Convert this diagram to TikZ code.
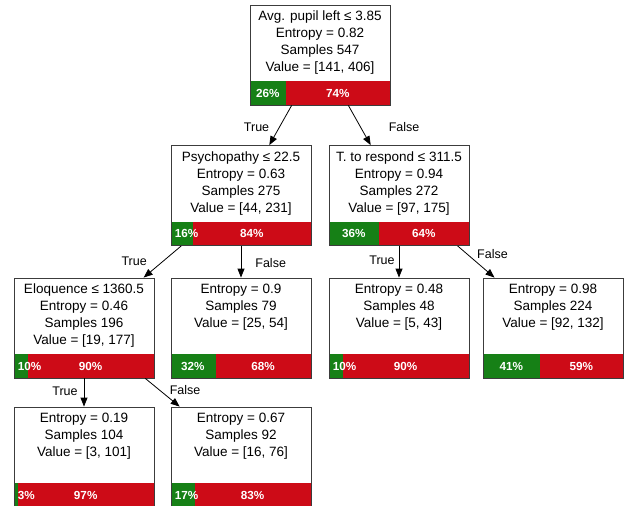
\documentclass[tikz,border=0pt]{standalone}
\usepackage{fontspec}
\setmainfont{Liberation Sans}
\usetikzlibrary{arrows.meta}
\definecolor{yes}{RGB}{22,128,22}
\definecolor{no}{RGB}{205,11,23}
\definecolor{frame}{RGB}{60,60,60}

\newcommand{\splitnode}[5]{%
  \node[box=#4] (#1) at (#2) {};
  \node[info] (#1-text) at ([yshift=-6pt]#1.north) {#3};
  \pgfmathsetmacro\yesx{max(4,0.7*#4-12)}
  \node[pct, anchor=west] (#1-yes) at ([xshift=\yesx pt, yshift=12pt]#1.south west) {#4\%};
  \node[pct] (#1-no) at ([xshift={70+0.7*#4}, yshift=12pt]#1.south west) {#5\%};
}

\begin{document}
\begin{tikzpicture}[x=1pt, y=1pt,
                    box/.style={draw=frame, line width=0.8pt, minimum width=140pt, minimum height=100pt, inner sep=0pt,
                        path picture={
                            \fill[no] (path picture bounding box.south west) rectangle ([yshift=24pt]path picture bounding box.south east);
                            \fill[yes] (path picture bounding box.south west) rectangle ([xshift={1.4*#1}, yshift=24pt]path picture bounding box.south west);
                        }},
                    info/.style={anchor=north, align=center, inner sep=0pt, font=\fontsize{13.5}{17}\selectfont},
                    pct/.style={text=white, inner sep=0pt, font=\fontsize{11.7}{14}\selectfont\bfseries},
                    cond/.style={inner sep=0pt, font=\fontsize{12.5}{15}\selectfont},
                    branch/.style={-{Triangle[length=9pt, width=7pt]}, line width=0.8pt}]
\clip (0,0) rectangle (624,-506);

\splitnode{root}{320,-55}{Avg. pupil left ≤ 3.85\\Entropy = 0.82\\Samples 547\\Value = [141, 406]}{26}{74}
\splitnode{psy}{241,-195.5}{Psychopathy ≤ 22.5\\Entropy = 0.63\\Samples 275\\Value = [44, 231]}{16}{84}
\splitnode{resp}{399,-195.5}{T. to respond ≤ 311.5\\Entropy = 0.94\\Samples 272\\Value = [97, 175]}{36}{64}
\splitnode{elo}{84,-328}{Eloquence ≤ 1360.5\\Entropy = 0.46\\Samples 196\\Value = [19, 177]}{10}{90}
\splitnode{psyhigh}{241,-328}{Entropy = 0.9\\Samples 79\\Value = [25, 54]}{32}{68}
\splitnode{respfast}{399,-328}{Entropy = 0.48\\Samples 48\\Value = [5, 43]}{10}{90}
\splitnode{respslow}{553,-328}{Entropy = 0.98\\Samples 224\\Value = [92, 132]}{41}{59}
\splitnode{elolow}{84,-457}{Entropy = 0.19\\Samples 104\\Value = [3, 101]}{3}{97}
\splitnode{elohigh}{241,-457}{Entropy = 0.67\\Samples 92\\Value = [16, 76]}{17}{83}

\draw[branch] (root) -- (psy) node[cond, pos=.54, left=10pt] (root-t) {True};
\draw[branch] (root) -- (resp) node[cond, pos=.54, right=28pt] (root-f) {False};
\draw[branch] (psy) -- (elo) node[cond, pos=.48, left=16pt] (psy-t) {True};
\draw[branch] (psy) -- (psyhigh) node[cond, pos=.54, right=14pt] (psy-f) {False};
\draw[branch] (resp) -- (respfast) node[cond, pos=.45, left=4pt] (resp-t) {True};
\draw[branch] (resp) -- (respslow) node[cond, pos=.25, right=10pt] (resp-f) {False};
\draw[branch] (elo) -- (elolow) node[cond, pos=.45, left=6pt] (elo-t) {True};
\draw[branch] (elo) -- (elohigh) node[cond, pos=.41, right=10pt] (elo-f) {False};
\end{tikzpicture}
\end{document}
